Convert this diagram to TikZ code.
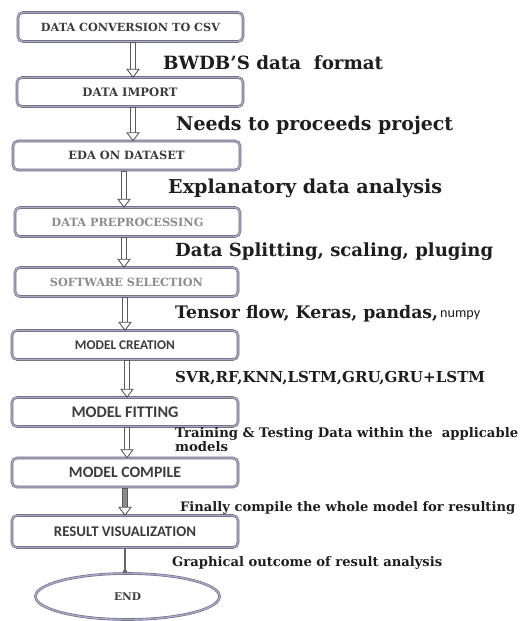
\documentclass[tikz,border=0pt]{standalone}
\usepackage{fontspec}
\setmainfont{DejaVu Serif}
\newfontfamily\boxserif{DejaVu Serif}
\newfontfamily\boxsans{Carlito}
\newfontfamily\labsans{Carlito}
\usetikzlibrary{arrows.meta,shapes.geometric,calc}
\newcommand{\fitto}[2]{\resizebox{#1}{!}{#2}}
\definecolor{rimcol}{HTML}{6E6E78}
\definecolor{rimin}{HTML}{A9A7CF}
\definecolor{boxtxt}{HTML}{3C3C3C}
\definecolor{paletxt}{HTML}{8C8C8C}
\definecolor{labtxt}{HTML}{1E1E1E}
% #1 x position, #2 from node, #3 to node, #4 shaft style
\newcommand{\flowarrow}[4]{%
  \coordinate (tipA) at (#3.north -| #1,0);
  \coordinate (tailA) at (#2.south -| #1,0);
  \filldraw[#4] ($(tailA)+(-2.3,0.8)$) rectangle ($(tipA)+(2.3,-7.5)$);
  \filldraw[headshape] (tipA) -- ($(tipA)+(-6,-8)$) -- ($(tipA)+(6,-8)$) -- cycle;}
\begin{document}
\begin{tikzpicture}[x=1pt,y=-1pt,
  stepbox/.style={draw=rimcol, line width=0.6pt, double=rimin, double distance=1.4pt,
    rounded corners=5pt, minimum height=29pt, fill=white, inner sep=0pt, text=boxtxt,
    font=\bfseries\boxserif},
  sansbox/.style={stepbox, font=\bfseries\boxsans},
  endbox/.style={ellipse, draw=rimcol, line width=0.6pt, double=rimin, double distance=1.4pt,
    fill=white, inner sep=0pt, minimum width=184pt, minimum height=46pt, text=boxtxt,
    font=\bfseries\boxserif},
  lab/.style={anchor=west, inner sep=0pt, text=labtxt, font=\bfseries},
  shaft/.style={draw=black!65, line width=0.7pt, fill=white},
  greyshaft/.style={shaft, fill=black!45},
  headshape/.style={draw=black!70, line width=0.8pt, fill=white, line join=miter},
  thinarr/.style={draw=black!60, line width=2.4pt, -{Circle[length=4pt]}}
]
\useasboundingbox (0,0) rectangle (523,621);
\fill[white] (0,0) rectangle (523,621);

% boxes
\node[stepbox, minimum width=225pt] (b1) at (130.5,27) {\fitto{179pt}{DATA CONVERSION TO CSV}};
\node[stepbox, minimum width=226pt] (b2) at (130,92) {\fitto{95pt}{DATA IMPORT}};
\node[stepbox, minimum width=227pt] (b3) at (126.5,155.5) {\fitto{116pt}{EDA ON DATASET}};
\node[stepbox, minimum width=225pt, text=paletxt] (b4) at (127.5,222) {\fitto{152pt}{DATA PREPROCESSING}};
\node[stepbox, minimum width=223pt, text=paletxt] (b5) at (126.5,282) {\fitto{153pt}{SOFTWARE SELECTION}};
\node[sansbox, minimum width=226pt] (b6) at (125,345) {\fitto{100pt}{MODEL CREATION}};
\node[sansbox, minimum width=226pt] (b7) at (125,412) {\fitto{107pt}{MODEL FITTING}};
\node[sansbox, minimum width=226pt] (b8) at (125,472.5) {\fitto{112pt}{MODEL COMPILE}};
\node[sansbox, minimum width=226pt, minimum height=32pt] (b9) at (125,531.5) {\fitto{142pt}{RESULT VISUALIZATION}};
\node[endbox] (e) at (127.5,596.5) {\fitto{27pt}{END}};

% connectors
\flowarrow{133}{b1}{b2}{shaft}
\flowarrow{133}{b2}{b3}{shaft}
\flowarrow{124}{b3}{b4}{shaft}
\flowarrow{124}{b4}{b5}{shaft}
\flowarrow{125}{b5}{b6}{shaft}
\flowarrow{127}{b6}{b7}{shaft}
\flowarrow{127}{b7}{b8}{shaft}
\flowarrow{125}{b8}{b9}{greyshaft}
\draw[thinarr] (b9.south -| 125,0) -- (e.north -| 125,0);

% labels
\node[lab] (l1) at (163,63) {\fitto{220pt}{BWDB'S data~~format}};
\node[lab] (l2) at (176,125) {\fitto{277pt}{Needs to proceeds project}};
\node[lab] (l3) at (168,188.5) {\fitto{274pt}{Explanatory data analysis}};
\node[lab] (l4) at (175,251.5) {\fitto{318pt}{Data Splitting, scaling, pluging}};
\node[lab] (l5) at (175,314) {\fitto{263pt}{Tensor flow, Keras, pandas,}};
\node[lab, font=\labsans] (l5b) at (440,315) {\fitto{40pt}{numpy}};
\node[lab] (l6) at (175,378.5) {\fitto{310pt}{SVR,RF,KNN,LSTM,GRU,GRU+LSTM}};
\node[lab] (l7) at (175,441.5) {\fitto{343pt}{\begin{tabular}{@{}l@{}}Training \& Testing Data within the~~applicable\\[-1.5pt] models\end{tabular}}};
\node[lab] (l8) at (180,507.5) {\fitto{335pt}{Finally compile the whole model for resulting}};
\node[lab] (l9) at (172,563) {\fitto{270pt}{Graphical outcome of result analysis}};
\end{tikzpicture}
\end{document}
